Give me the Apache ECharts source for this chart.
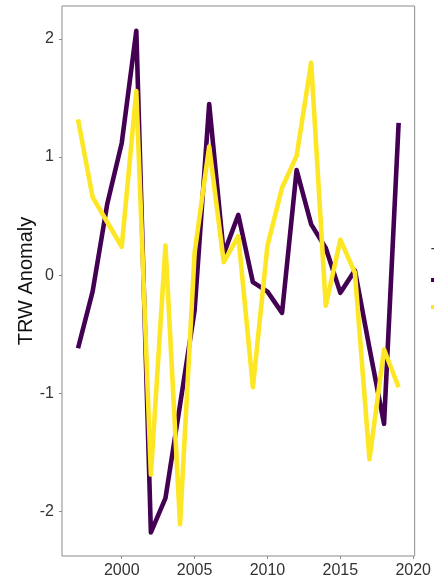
<!DOCTYPE html>
<html>
<head>
<meta charset="utf-8">
<script src="https://cdn.jsdelivr.net/npm/echarts@6/dist/echarts.min.js"></script>
<style>
  html, body { margin: 0; padding: 0; background: #fff; }
  #chart { width: 434px; height: 582px; }
</style>
</head>
<body>
<div id="chart"></div>
<script>
// Tree-ring width anomalies per year for two series
const years = [1997, 1998, 1999, 2000, 2001, 2002, 2003, 2004, 2005, 2006, 2007, 2008,
               2009, 2010, 2011, 2012, 2013, 2014, 2015, 2016, 2017, 2018, 2019];
const seriesNames = ['North', 'South'];
const northValues = [-0.62, -0.14, 0.60, 1.12, 2.07, -2.18, -1.89, -1.10, -0.30, 1.45, 0.18, 0.51,
                     -0.06, -0.14, -0.32, 0.89, 0.43, 0.23, -0.15, 0.04, -0.62, -1.26, 1.29];
const southValues = [1.32, 0.66, 0.45, 0.24, 1.56, -1.69, 0.25, -2.11, 0.19, 1.09, 0.11, 0.33,
                     -0.95, 0.25, 0.74, 1.01, 1.80, -0.26, 0.30, 0.02, -1.56, -0.63, -0.95];
const xTicks = [2000, 2005, 2010, 2015, 2020];
const yTicks = [-2, -1, 0, 1, 2];
const legendTitle = 'Tree';

const pairs = vals => years.map((y, i) => [y, vals[i]]);
const textColor = '#333333';
const frameColor = '#8a8a8a';
const font = 'Liberation Sans, Arial, sans-serif';

const chart = echarts.init(document.getElementById('chart'), null, { renderer: 'canvas' });
chart.setOption({
  backgroundColor: '#ffffff',
  animation: false,
  title: {
    text: legendTitle,
    left: 431, top: 246, padding: 0,
    textStyle: { fontFamily: font, fontSize: 15, fontWeight: 'normal', color: textColor }
  },
  legend: {
    orient: 'vertical',
    left: 431, top: 273, padding: 0,
    itemWidth: 18, itemHeight: 16, itemGap: 13,
    textStyle: { fontFamily: font, fontSize: 14, color: textColor },
    data: seriesNames.map(n => ({
      name: n,
      icon: 'path://M0,6 L18,6 L18,10 L0,10 Z'
    }))
  },
  grid: { left: 62, right: 19.3, top: 6, bottom: 26, show: true, borderColor: frameColor, borderWidth: 1 },
  xAxis: {
    type: 'value',
    min: 1995.9, max: 2020.1,
    splitLine: { show: false },
    axisLine: { show: false, onZero: false },
    axisTick: { show: true, length: 3, customValues: xTicks, lineStyle: { color: frameColor } },
    axisLabel: {
      customValues: xTicks, margin: 7, fontFamily: font, fontSize: 16, color: textColor,
      formatter: v => String(v)
    }
  },
  yAxis: {
    type: 'value',
    min: -2.38, max: 2.28,
    name: 'TRW Anomaly',
    nameLocation: 'middle',
    nameGap: 26,
    nameMoveOverlap: false,
    nameTextStyle: { fontFamily: font, fontSize: 20, color: '#111' },
    splitLine: { show: false },
    axisLine: { show: false, onZero: false },
    axisTick: { show: true, length: 3, customValues: yTicks, lineStyle: { color: frameColor } },
    axisLabel: { customValues: yTicks, margin: 8, fontFamily: font, fontSize: 16, color: textColor }
  },
  series: [
    {
      name: seriesNames[0], type: 'line', data: pairs(northValues), showSymbol: false, symbol: 'none',
      itemStyle: { color: '#440154' },
      lineStyle: { color: '#440154', width: 4.6, join: 'round', cap: 'butt' }
    },
    {
      name: seriesNames[1], type: 'line', data: pairs(southValues), showSymbol: false, symbol: 'none',
      itemStyle: { color: '#FDE725' },
      lineStyle: { color: '#FDE725', width: 4.6, join: 'round', cap: 'butt' }
    }
  ]
});
</script>
</body>
</html>
